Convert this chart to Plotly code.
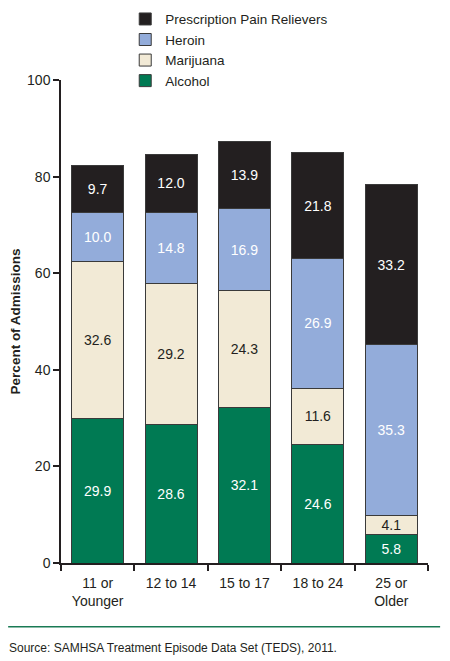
import plotly.graph_objects as go

categories = ["11 or<br>Younger", "12 to 14", "15 to 17", "18 to 24", "25 or<br>Older"]
alcohol = [29.9, 28.6, 32.1, 24.6, 5.8]
marijuana = [32.6, 29.2, 24.3, 11.6, 4.1]
heroin = [10.0, 14.8, 16.9, 26.9, 35.3]
prescription = [9.7, 12.0, 13.9, 21.8, 33.2]
y_ticks = [0, 20, 40, 60, 80, 100]

FONT = "Liberation Sans Narrow, Arial Narrow, Liberation Sans, Arial, sans-serif"

series = [
    ("Alcohol", alcohol, "#007a53", "white"),
    ("Marijuana", marijuana, "#f2ead6", "#231f20"),
    ("Heroin", heroin, "#93acda", "white"),
    ("Prescription Pain Relievers", prescription, "#231f20", "white"),
]

fig = go.Figure()
for name, vals, color, tcolor in series:
    fig.add_trace(go.Bar(
        x=categories, y=vals, name=name,
        marker=dict(color=color, line=dict(color="#3a3a3a", width=1)),
        text=[f"{v:.1f}" for v in vals],
        textposition="inside", insidetextanchor="middle", textangle=0,
        constraintext="none",
        textfont=dict(color=tcolor, size=14, family=FONT),
        width=0.71,
    ))

fig.update_layout(
    width=442, height=653,
    barmode="stack",
    plot_bgcolor="white", paper_bgcolor="white",
    margin=dict(l=53, r=22, t=72, b=98, autoexpand=False),
    font=dict(family=FONT, size=14, color="#231f20"),
    showlegend=True,
    legend=dict(
        x=0.175, y=1.158, xanchor="left", yanchor="top",
        traceorder="reversed",
        font=dict(size=13.5, family=FONT),
        bgcolor="rgba(0,0,0,0)",
        itemclick=False,
        tracegroupgap=0,
    ),
    xaxis=dict(
        automargin=False,
        showline=True, linecolor="#231f20", linewidth=1.5,
        ticks="outside", ticklen=6, tickcolor="#231f20", tickwidth=1.5,
        tickson="boundaries", ticklabelstandoff=6,
        tickfont=dict(size=14, family=FONT),
        showgrid=False,
    ),
    yaxis=dict(
        automargin=False,
        range=[0, 100], tickvals=y_ticks,
        showline=True, linecolor="#231f20", linewidth=1.5,
        ticks="outside", ticklen=6, tickcolor="#231f20", tickwidth=1.5,
        showgrid=False, zeroline=False,
        tickfont=dict(size=14, family=FONT),
        title=dict(text="<b>Percent of Admissions</b>", font=dict(size=13.5, family=FONT), standoff=14),
    ),
    shapes=[dict(type="line", xref="paper", yref="paper",
                 x0=-0.144, x1=1.033, y0=-0.132, y1=-0.132,
                 line=dict(color="#1a7a55", width=1.5))],
    annotations=[dict(text="Source: SAMHSA Treatment Episode Data Set (TEDS), 2011.",
                      xref="paper", yref="paper", x=-0.146, y=-0.157,
                      xanchor="left", yanchor="top", showarrow=False,
                      font=dict(size=12, family="Liberation Sans, Arial, sans-serif", color="#231f20"))],
)

fig.write_html("out.html")
